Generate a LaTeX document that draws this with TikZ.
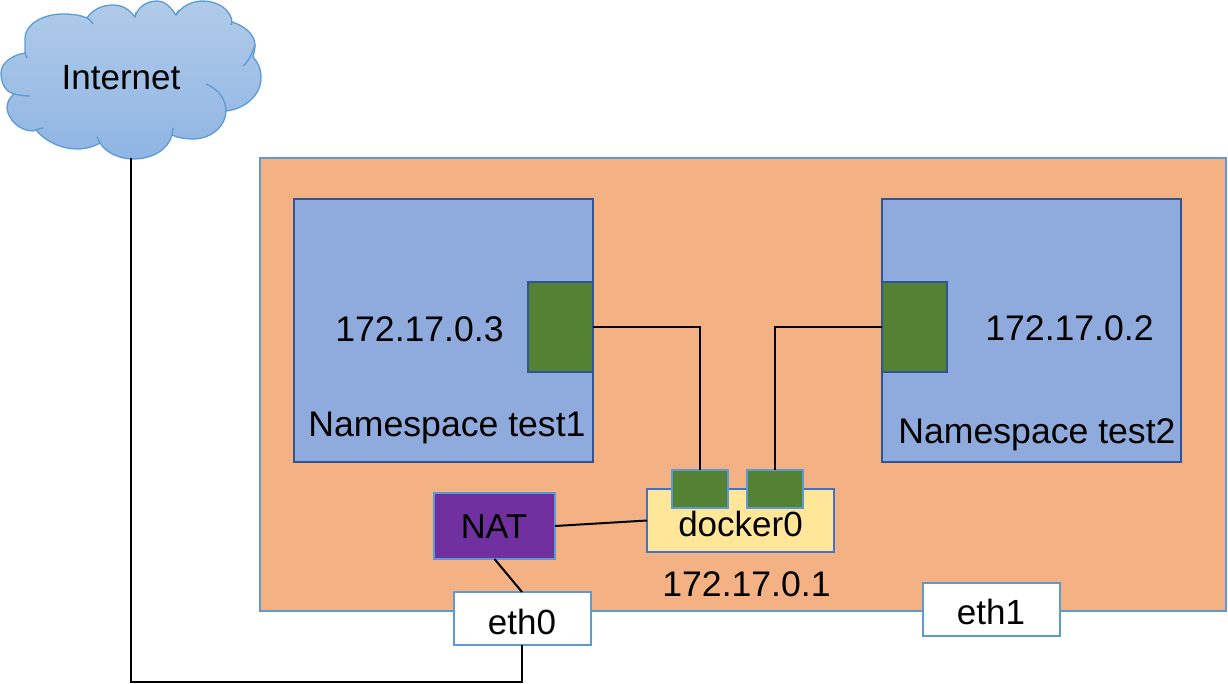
\documentclass[tikz,border=0pt]{standalone}
\usepackage{fontspec}
\setmainfont{Liberation Sans}
\definecolor{peach}{HTML}{F4B183}
\definecolor{edgeblue}{HTML}{5B9BD5}
\definecolor{nsfill}{HTML}{8FAADC}
\definecolor{nsedge}{HTML}{2F5597}
\definecolor{portgreen}{HTML}{548235}
\definecolor{dockerfill}{HTML}{FFE699}
\definecolor{dockeredge}{HTML}{4472C4}
\definecolor{natfill}{HTML}{7030A0}
\definecolor{cloudtop}{HTML}{B1CBE9}
\definecolor{cloudbot}{HTML}{8FB5E3}
\tikzset{
  x=1pt,y=-1pt,
  box/.style={rectangle,inner sep=0pt,outer sep=0pt,line width=2pt,anchor=north west},
  host/.style={box,draw=edgeblue,fill=peach},
  nsbox/.style={box,draw=nsedge,fill=nsfill},
  port/.style={box,draw=nsedge,fill=portgreen},
  smallport/.style={box,draw=edgeblue,fill=portgreen},
  dockerbox/.style={box,draw=dockeredge,fill=dockerfill},
  natbox/.style={box,draw=edgeblue,fill=natfill},
  ethbox/.style={box,draw=edgeblue,fill=white},
  label/.style={inner sep=0pt,outer sep=0pt,font=\fontsize{35}{40}\selectfont},
  biglabel/.style={label,font=\fontsize{35.6}{40}\selectfont},
  wire/.style={draw=black,line width=2pt},
}
\begin{document}
\begin{tikzpicture}
\useasboundingbox (0,0) rectangle (1228,684);
% cloud
\path[top color=cloudtop,bottom color=cloudbot,draw=edgeblue,line width=1.3pt]
 (25,53) .. controls (12,55) and (1,63) .. (1,73)
 .. controls (1,84) and (6,92) .. (14,94)
 .. controls (9,98) and (7,103) .. (7,108)
 .. controls (8,120) and (20,131) .. (33,131)
 .. controls (34,131) and (35,131) .. (36,130)
 .. controls (46,142) and (62,149) .. (77,149)
 .. controls (85,149) and (93,147) .. (100,143)
 .. controls (106,153) and (120,159) .. (133,159)
 .. controls (152,159) and (168,150) .. (172,135)
 .. controls (178,138) and (186,139) .. (193,139)
 .. controls (211,139) and (226,126) .. (226,111)
 .. controls (245,109) and (261,95) .. (261,78)
 .. controls (261,69) and (258,62) .. (253,57)
 .. controls (254,53) and (255,49) .. (255,45)
 .. controls (255,35) and (245,26) .. (232,22)
 .. controls (231,10) and (218,1) .. (203,1)
 .. controls (192,1) and (182,6) .. (176,15)
 .. controls (170,6) and (164,1) .. (157,1)
 .. controls (146,1) and (137,8) .. (135,17)
 .. controls (129,9) and (122,5) .. (113,5)
 .. controls (102,5) and (92,10) .. (87,18)
 .. controls (80,15) and (72,14) .. (63,14)
 .. controls (42,14) and (25,25) .. (25,38)
 .. controls (25,44) and (25,49) .. (25,53) -- cycle;
\draw[edgeblue,line width=1.3pt]
 (14,94) .. controls (18,95) and (24,96) .. (30,96)
 (36,130) .. controls (38,129) and (41,128) .. (43,128)
 (97,137) .. controls (98,139) and (99,141) .. (100,143)
 (173,128) .. controls (173,131) and (172,133) .. (172,135)
 (206,84) .. controls (218,89) and (226,99) .. (226,111)
 (243,66) .. controls (248,62) and (252,54) .. (255,45)
 (232,22) .. controls (232,23) and (232,24) .. (231,25)
 (176,15) .. controls (177,13) and (178,11) .. (179,10)
 (135,17) .. controls (135,15) and (136,13) .. (136,12)
 (87,18) .. controls (89,19) and (91,21) .. (93,24)
 (25,53) .. controls (26,55) and (26,57) .. (27,58);
\node[label] (internetlabel) at (121,78) {Internet};

% host
\node[host,minimum width=966pt,minimum height=453pt] (hostbox) at (260,158) {};
% namespaces
\node[nsbox,minimum width=299pt,minimum height=263pt] (ns1) at (294,199) {};
\node[nsbox,minimum width=299pt,minimum height=263pt] (ns2) at (882,199) {};
\node[port,minimum width=65pt,minimum height=90pt] (veth1) at (528,282) {};
\node[port,minimum width=65pt,minimum height=90pt] (veth2) at (882,282) {};
\node[biglabel] (ip3) at (419.5,329) {172.17.0.3};
\node[biglabel] (ip2) at (1069.5,328) {172.17.0.2};
\node[biglabel] (ns1label) at (447,428) {Namespace test1};
\node[biglabel] (ns2label) at (1037,435) {Namespace test2};

% docker
\node[dockerbox,minimum width=187pt,minimum height=63pt] (docker) at (647,489) {};
\node[label] (dockerlabel) at (740.5,524) {docker0};
\node[smallport,minimum width=56pt,minimum height=38pt] (p1) at (671.5,470) {};
\node[smallport,minimum width=56pt,minimum height=38pt] (p2) at (746.5,470) {};
\node[biglabel] (ip1) at (746.5,584) {172.17.0.1};

% NAT + eth
\node[natbox,minimum width=121pt,minimum height=66pt] (nat) at (434,493) {};
\node[label,font=\fontsize{34.5}{40}\selectfont] (natlabel) at (494,527) {NAT};
\node[ethbox,minimum width=137pt,minimum height=53pt] (eth0) at (453.5,592) {};
\node[ethbox,minimum width=137pt,minimum height=53pt] (eth1) at (923,583) {};
\node[label] (eth0label) at (522,622) {eth0};
\node[label] (eth1label) at (991,612) {eth1};

% connectors
\draw[wire] (veth1.east) -- (p1.north |- veth1.east) -- (p1.north);
\draw[wire] (veth2.west) -- (p2.north |- veth2.west) -- (p2.north);
\draw[wire] (nat.east) -- (docker.west);
\draw[wire] (nat.south) -- (eth0.north);
\coordinate (cloudfoot) at (131,158);
\draw[wire] (eth0.south) -- (eth0.south |- 0,682) -- (cloudfoot |- 0,682) -- (cloudfoot);
\end{tikzpicture}
\end{document}
